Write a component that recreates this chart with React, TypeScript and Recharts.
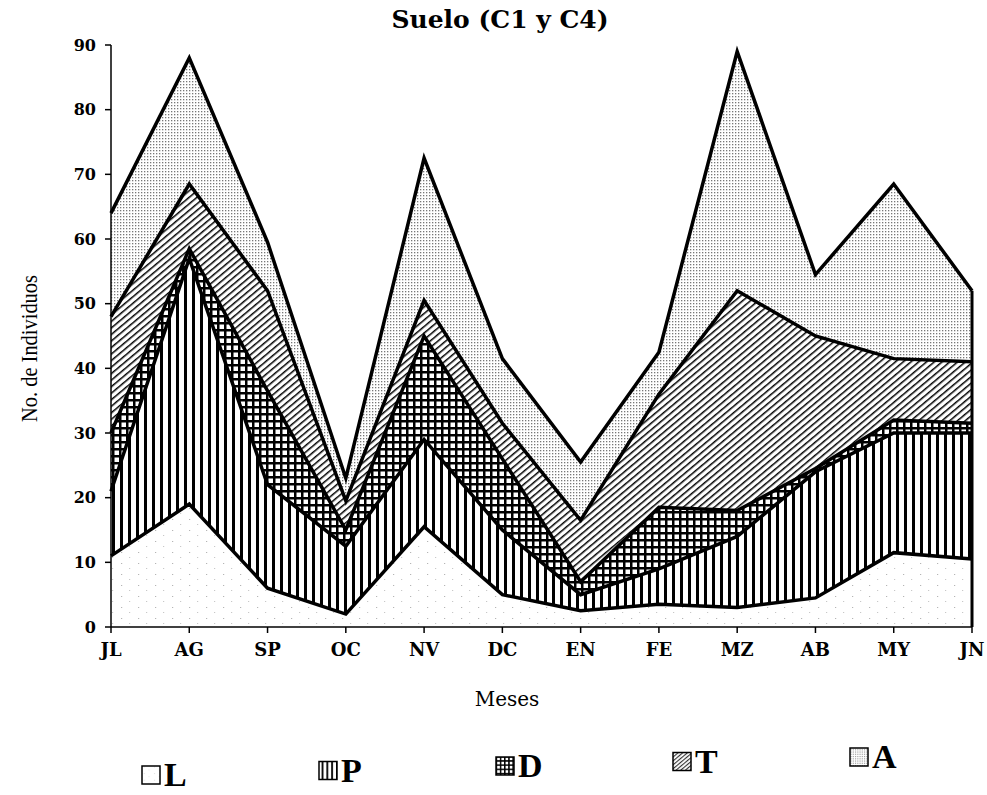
import { AreaChart, Area, XAxis, YAxis, ReferenceLine } from 'recharts'

const months = ['JL', 'AG', 'SP', 'OC', 'NV', 'DC', 'EN', 'FE', 'MZ', 'AB', 'MY', 'JN']
const seriesKeys = ['L', 'P', 'D', 'T', 'A']
const valsL = [11, 19, 6, 2, 15.5, 5, 2.5, 3.5, 3, 4.5, 11.5, 10.5]
const valsP = [10, 38, 16, 10.5, 13.5, 10, 2.5, 5.5, 11, 19.5, 18.5, 19.5]
const valsD = [9, 1.5, 14.5, 2.5, 16, 11, 2, 9.5, 4, 0.5, 2, 1.5]
const valsT = [18, 10, 15.5, 4.5, 5.5, 5.5, 9.5, 17.5, 34, 20.5, 9.5, 9.5]
const valsA = [16, 19.5, 7.5, 3.5, 22, 10, 9, 6.5, 37, 9.5, 27, 11]
const yTicks = [0, 10, 20, 30, 40, 50, 60, 70, 80, 90]

const chartData = months.map((m, i) => ({
  m,
  L: valsL[i],
  P: valsP[i],
  D: valsD[i],
  T: valsT[i],
  A: valsA[i],
}))

const last = chartData[chartData.length - 1]
const lastTotal = seriesKeys.reduce((s, k) => s + (last as any)[k], 0)

const SERIF = "'DejaVu Serif', 'Liberation Serif', serif"
const TIMES = "'Liberation Serif', 'DejaVu Serif', serif"

// hatch fills, one per layer (prefix "p" for the plot, "q" for the smaller legend boxes)
function patternDefs(pre: string, s: number) {
  const sc = s === 1 ? '' : `scale(${s})`
  return (
    <defs>
      <pattern id={`${pre}L`} width={17} height={11} patternUnits="userSpaceOnUse" patternTransform={sc || undefined}>
        <rect width={17} height={11} fill="#fff" />
        <rect x={2} y={2} width={1.2} height={1} fill="#b5b5b5" />
        <rect x={10} y={7} width={1.2} height={1} fill="#c8c8c8" />
      </pattern>
      <pattern id={`${pre}P`} width={8} height={8} patternUnits="userSpaceOnUse" patternTransform={sc || undefined}>
        <rect width={8} height={8} fill="#fff" />
        <rect x={0} y={0} width={3} height={8} fill="#000" />
      </pattern>
      <pattern id={`${pre}D`} width={7} height={7} patternUnits="userSpaceOnUse" patternTransform={sc || undefined}>
        <rect width={7} height={7} fill="#000" />
        <rect x={2.5} y={2.5} width={4.5} height={4.5} fill="#fff" />
      </pattern>
      <pattern id={`${pre}T`} width={5} height={5} patternUnits="userSpaceOnUse" patternTransform={`rotate(-40) ${sc}`}>
        <rect width={5} height={5} fill="#fff" />
        <rect x={0} y={2} width={5} height={1.5} fill="#000" />
      </pattern>
      <pattern id={`${pre}A`} width={3} height={3} patternUnits="userSpaceOnUse" patternTransform={sc || undefined}>
        <rect width={3} height={3} fill="#fff" />
        <rect x={0} y={0} width={1.3} height={1.3} fill="#777" />
      </pattern>
    </defs>
  )
}

export default function App() {
  return (
    <div style={{ position: 'absolute', left: 0, top: 0, width: 987, height: 795, background: '#fff' }}>
      <AreaChart
        width={987}
        height={795}
        data={chartData}
        margin={{ top: 45, right: 15, bottom: 138, left: 0 }}
      >
        {patternDefs('p', 1)}
        <XAxis
          dataKey="m"
          type="category"
          interval={0}
          height={30}
          tickSize={6}
          tickMargin={10}
          axisLine={{ stroke: '#000', strokeWidth: 1.5 }}
          tickLine={{ stroke: '#000', strokeWidth: 1.5 }}
          tick={{ fill: '#000', fontSize: 18, fontWeight: 700, fontFamily: SERIF }}
        />
        <YAxis
          width={111}
          domain={[0, 90]}
          ticks={yTicks}
          tickSize={6}
          tickMargin={9}
          axisLine={{ stroke: '#000', strokeWidth: 1.5 }}
          tickLine={{ stroke: '#000', strokeWidth: 1.5 }}
          tick={{ fill: '#000', fontSize: 16, fontWeight: 700, fontFamily: SERIF }}
        />
        {seriesKeys.map(k => (
          <Area
            key={'f' + k}
            dataKey={k}
            stackId="fill"
            type="linear"
            fill={`url(#p${k})`}
            fillOpacity={1}
            stroke="none"
            dot={false}
            activeDot={false}
            isAnimationActive={false}
          />
        ))}
        {seriesKeys.map(k => (
          <Area
            key={'e' + k}
            dataKey={k}
            stackId="edge"
            type="linear"
            fill="none"
            stroke="#000"
            strokeWidth={3.5}
            dot={false}
            activeDot={false}
            isAnimationActive={false}
          />
        ))}
        <ReferenceLine
          segment={[{ x: 'JN', y: 0 }, { x: 'JN', y: lastTotal }]}
          stroke="#000"
          strokeWidth={3}
        />
      </AreaChart>

      <svg
        width={987}
        height={795}
        style={{ position: 'absolute', left: 0, top: 0, pointerEvents: 'none' }}
      >
        {patternDefs('q', 0.6)}
        <text x={500} y={28} textAnchor="middle" fontFamily={SERIF} fontWeight={700} fontSize={25}>
          Suelo (C1 y C4)
        </text>
        <text
          transform="translate(37 422) rotate(-90)"
          fontFamily={TIMES}
          fontSize={24}
          textLength={147}
          lengthAdjust="spacingAndGlyphs"
        >
          No. de Individuos
        </text>
        <text x={507} y={706} textAnchor="middle" fontFamily={SERIF} fontSize={20}>
          Meses
        </text>
        {seriesKeys.map((k, i) => {
          const bx = 142 + i * 177
          const by = 766 - i * 4.5
          return (
            <g key={k}>
              <rect x={bx} y={by} width={18} height={18} fill={`url(#q${k})`} stroke="#000" strokeWidth={1.5} />
              <text x={bx + 22} y={by + 20} fontFamily={TIMES} fontWeight={700} fontSize={34}>
                {k}
              </text>
            </g>
          )
        })}
      </svg>
    </div>
  )
}
